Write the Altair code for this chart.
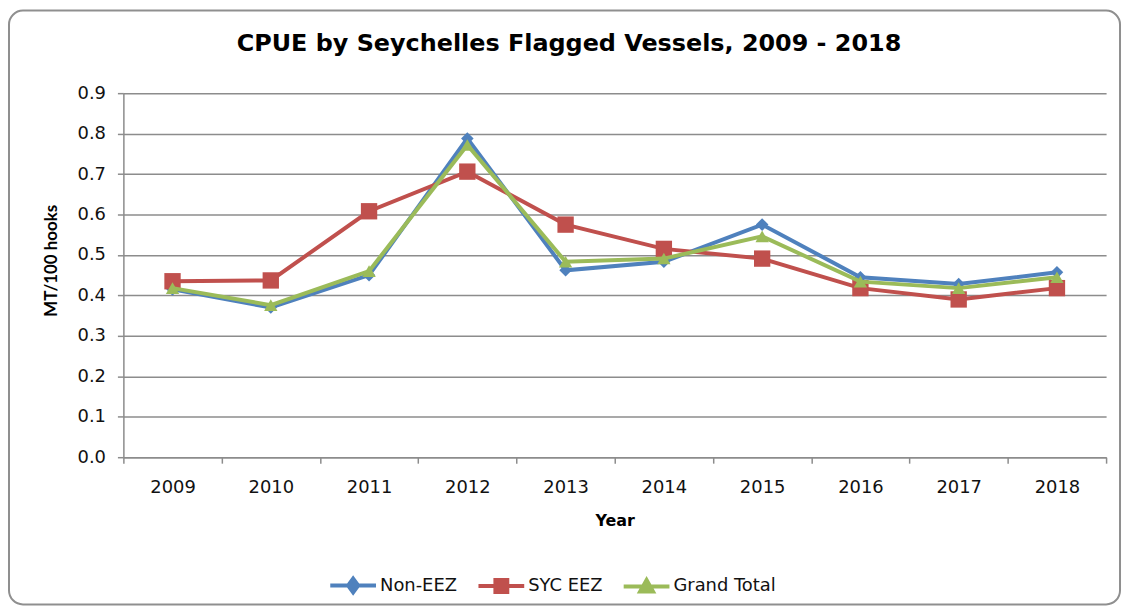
import altair as alt
import pandas as pd

years = ["2009", "2010", "2011", "2012", "2013", "2014", "2015", "2016", "2017", "2018"]
non_eez = [0.415, 0.370, 0.450, 0.788, 0.462, 0.483, 0.575, 0.445, 0.428, 0.457]
syc_eez = [0.435, 0.437, 0.608, 0.706, 0.575, 0.515, 0.491, 0.418, 0.390, 0.418]
grand_total = [0.418, 0.376, 0.460, 0.772, 0.483, 0.491, 0.546, 0.434, 0.418, 0.445]

series_names = ["Non-EEZ", "SYC EEZ", "Grand Total"]
series_colors = ["#4F81BD", "#C0504D", "#9BBB59"]
series_shapes = ["diamond", "square", "triangle-up"]
series_sizes = [160, 270, 180]
legend_paths = [
    "M-1,0H1M0,-0.3L0.22,0L0,0.3L-0.22,0Z",
    "M-1,0H1M-0.26,-0.26H0.26V0.26H-0.26Z",
    "M-1,0H1M0,-0.28L0.28,0.22H-0.28Z",
]
y_ticks = [0.0, 0.1, 0.2, 0.3, 0.4, 0.5, 0.6, 0.7, 0.8, 0.9]

rows = []
for name, vals in zip(series_names, [non_eez, syc_eez, grand_total]):
    for yr, v in zip(years, vals):
        rows.append({"year": yr, "series": name, "value": v})
df = pd.DataFrame(rows)

FONT = "DejaVu Sans"
YFONT = "Lato"
W, H = 988, 366
PL, PT = 116, 84

x_enc = alt.X(
    "year:O",
    scale=alt.Scale(type="band", paddingInner=0, paddingOuter=0),
    axis=alt.Axis(
        title="Year",
        titleFont=FONT, titleFontSize=16, titleFontWeight="bold", titleColor="#000000",
        titleBaseline="middle", titleY=64,
        labelFont=FONT, labelFontSize=18, labelColor="#111111", labelAngle=0,
        labelPadding=15,
        tickBand="extent", tickSize=6, tickColor="#8c8c8c", tickWidth=1.5,
        domainColor="#8c8c8c", domainWidth=1.5, grid=False,
    ),
)
y_enc = alt.Y(
    "value:Q",
    scale=alt.Scale(domain=[0, 0.9], nice=False, zero=True),
    axis=alt.Axis(
        title="MT/100 hooks",
        titleFont=YFONT, titleFontSize=17, titleFontWeight="bold", titleColor="#000000",
        titleBaseline="middle", titleX=-72, titleY=H / 2 - 15,
        values=y_ticks, format=".1f",
        labelFont=FONT, labelFontSize=18, labelColor="#111111", labelPadding=12,
        tickSize=6, tickColor="#8c8c8c", tickWidth=1.5,
        domainColor="#8c8c8c", domainWidth=1.5,
        grid=True, gridColor="#8c8c8c", gridWidth=1.5,
    ),
)

base = alt.Chart(df).encode(x=x_enc, y=y_enc)

layers = []
border = alt.Chart(pd.DataFrame({"a": [0]})).mark_rect(
    fill="transparent", stroke="#8f8f8f", strokeWidth=2, cornerRadius=14
).encode(x=alt.value(1 - PL), x2=alt.value(1118 - PL), y=alt.value(1 - PT), y2=alt.value(598 - PT))
layers.append(border)

for name, col, shp, sz in zip(series_names, series_colors, series_shapes, series_sizes):
    sub = base.transform_filter(alt.datum.series == name)
    layers.append(sub.mark_line(color=col, strokeWidth=4))
    layers.append(sub.mark_point(shape=shp, size=sz, filled=True, color=col, opacity=1))

def leg():
    return alt.Legend(title=None, orient="none", legendX=206, legendY=470, direction="horizontal")

legend_layer = base.transform_filter("false").mark_point(filled=True, opacity=1).encode(
    fill=alt.Fill("series:N", scale=alt.Scale(domain=series_names, range=series_colors), legend=leg()),
    stroke=alt.Stroke("series:N", scale=alt.Scale(domain=series_names, range=series_colors), legend=leg()),
    shape=alt.Shape("series:N", scale=alt.Scale(domain=series_names, range=legend_paths), legend=leg()),
)
layers.append(legend_layer)

chart = alt.layer(*layers).properties(
    width=W,
    height=H,
    background="#ffffff",
    autosize=alt.AutoSizeParams(type="none"),
    padding={"left": PL, "top": PT, "right": 17, "bottom": 151},
    title=alt.TitleParams(
        "CPUE by Seychelles Flagged Vessels, 2009 - 2018",
        font=FONT, fontSize=24, fontWeight="bold", color="#000000",
        anchor="middle", dx=-46, offset=-47,
    ),
).configure_view(stroke=None).configure_legend(
    symbolSize=2116, symbolStrokeWidth=4,
    labelFont=FONT, labelFontSize=18, labelColor="#111111", labelOffset=2,
    columnPadding=13,
)

chart.save("out.html", embed_options={"renderer": "svg", "actions": False})
